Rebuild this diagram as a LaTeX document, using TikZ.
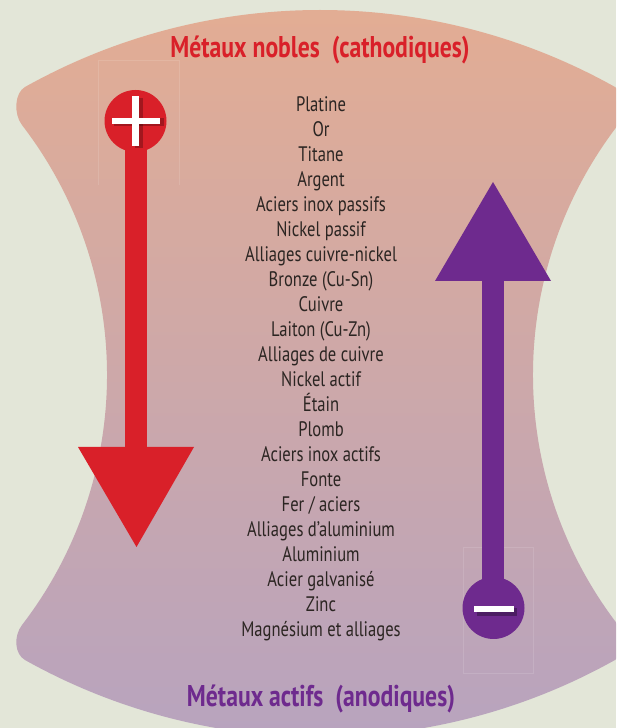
\documentclass[tikz,border=0pt]{standalone}
\usepackage{fontspec}
\setmainfont{PT Sans}[FakeStretch=0.79]
\usetikzlibrary{positioning,calc}
\definecolor{bgpanel}{HTML}{E3E6D8}
\definecolor{noble}{HTML}{D92029}
\definecolor{actif}{HTML}{6E2A8E}
\definecolor{peach}{HTML}{E4AD92}
\definecolor{mauve}{HTML}{CFA8AA}
\definecolor{lilac}{HTML}{B6A3C0}
\definecolor{ink}{HTML}{2B2522}

\begin{document}
\begin{tikzpicture}[x=1pt,y=1pt,
  metal/.style={font=\fontsize{21}{22}\selectfont,text=ink,anchor=base,inner sep=0pt},
  heading/.style={font=\fontsize{30}{32}\selectfont\bfseries,anchor=base,inner sep=0pt},
  framebox/.style={draw=white,draw opacity=0.12,line width=0.8pt},
  pole/.style={circle,minimum size=62pt,inner sep=0pt}]
  \fill[bgpanel] (0,0) rectangle (616,728);
  \clip (0,0) rectangle (616,728);

  % panel with concave sides
  \shade[top color=peach,middle color=mauve,bottom color=lilac]
    (25,641) arc[start angle=119.26,end angle=60.74,radius=603.6]
    .. controls (625.5,635.1) and (626.5,614) .. (618,603)
    arc[start angle=142.43,end angle=217.57,radius=410]
    .. controls (626.5,92) and (625.5,73.9) .. (615,68)
    arc[start angle=-60.74,end angle=-119.26,radius=603.6]
    .. controls (14.5,73.9) and (13.5,92) .. (22,103)
    arc[start angle=-37.57,end angle=37.57,radius=410]
    .. controls (13.5,614) and (14.5,635) .. cycle;

  \draw[framebox] (98,543) -- (98,668) -- (179,668) -- (179,543);
  \draw[framebox] (463,55) rectangle (533,181);

  \node[heading,text=noble] (nobles) at (320,670) {Métaux nobles\ \ (cathodiques)};
  \node[heading,text=actif] (actifs) at (321,21) {Métaux actifs\ \ (anodiques)};

  % cathode arrow (down)
  \node[pole,fill=noble] (plus) at (135.5,607) {};
  \fill[noble] (125,607) rectangle (147,281);
  \fill[noble] (78,281) -- (194,281) -- (136.5,181) -- cycle;
  \begin{scope}[shift={(plus.center)}]
    \fill[black,opacity=.25] (-22,-5) rectangle (28,3);
    \fill[black,opacity=.25] (-1,-27) rectangle (7,23);
    \fill[white] (-24,-3) rectangle (24,3);
    \fill[white] (-3.5,-25) rectangle (3.5,25);
  \end{scope}

  % anode arrow (up)
  \node[pole,fill=actif] (minus) at (493.5,120) {};
  \fill[actif] (482,120) rectangle (504,447);
  \fill[actif] (435,447) -- (551,447) -- (493,546) -- cycle;
  \begin{scope}[shift={(minus.center)}]
    \fill[black,opacity=.3] (-17,-8) rectangle (23,0);
    \fill[white] (-20,-4) rectangle (20,2);
  \end{scope}

  \foreach \metal [count=\i] in {Platine, Or, Titane, Argent,
      Aciers inox passifs, Nickel passif, Alliages cuivre-nickel,
      Bronze (Cu-Sn), Cuivre, Laiton (Cu-Zn), Alliages de cuivre,
      Nickel actif, Étain, Plomb, Aciers inox actifs, Fonte,
      Fer / aciers, Alliages d’aluminium, Aluminium,
      Acier galvanisé, Zinc, Magnésium et alliages}
    \node[metal] (m\i) at (321,{641-25*\i}) {\metal};
\end{tikzpicture}
\end{document}
